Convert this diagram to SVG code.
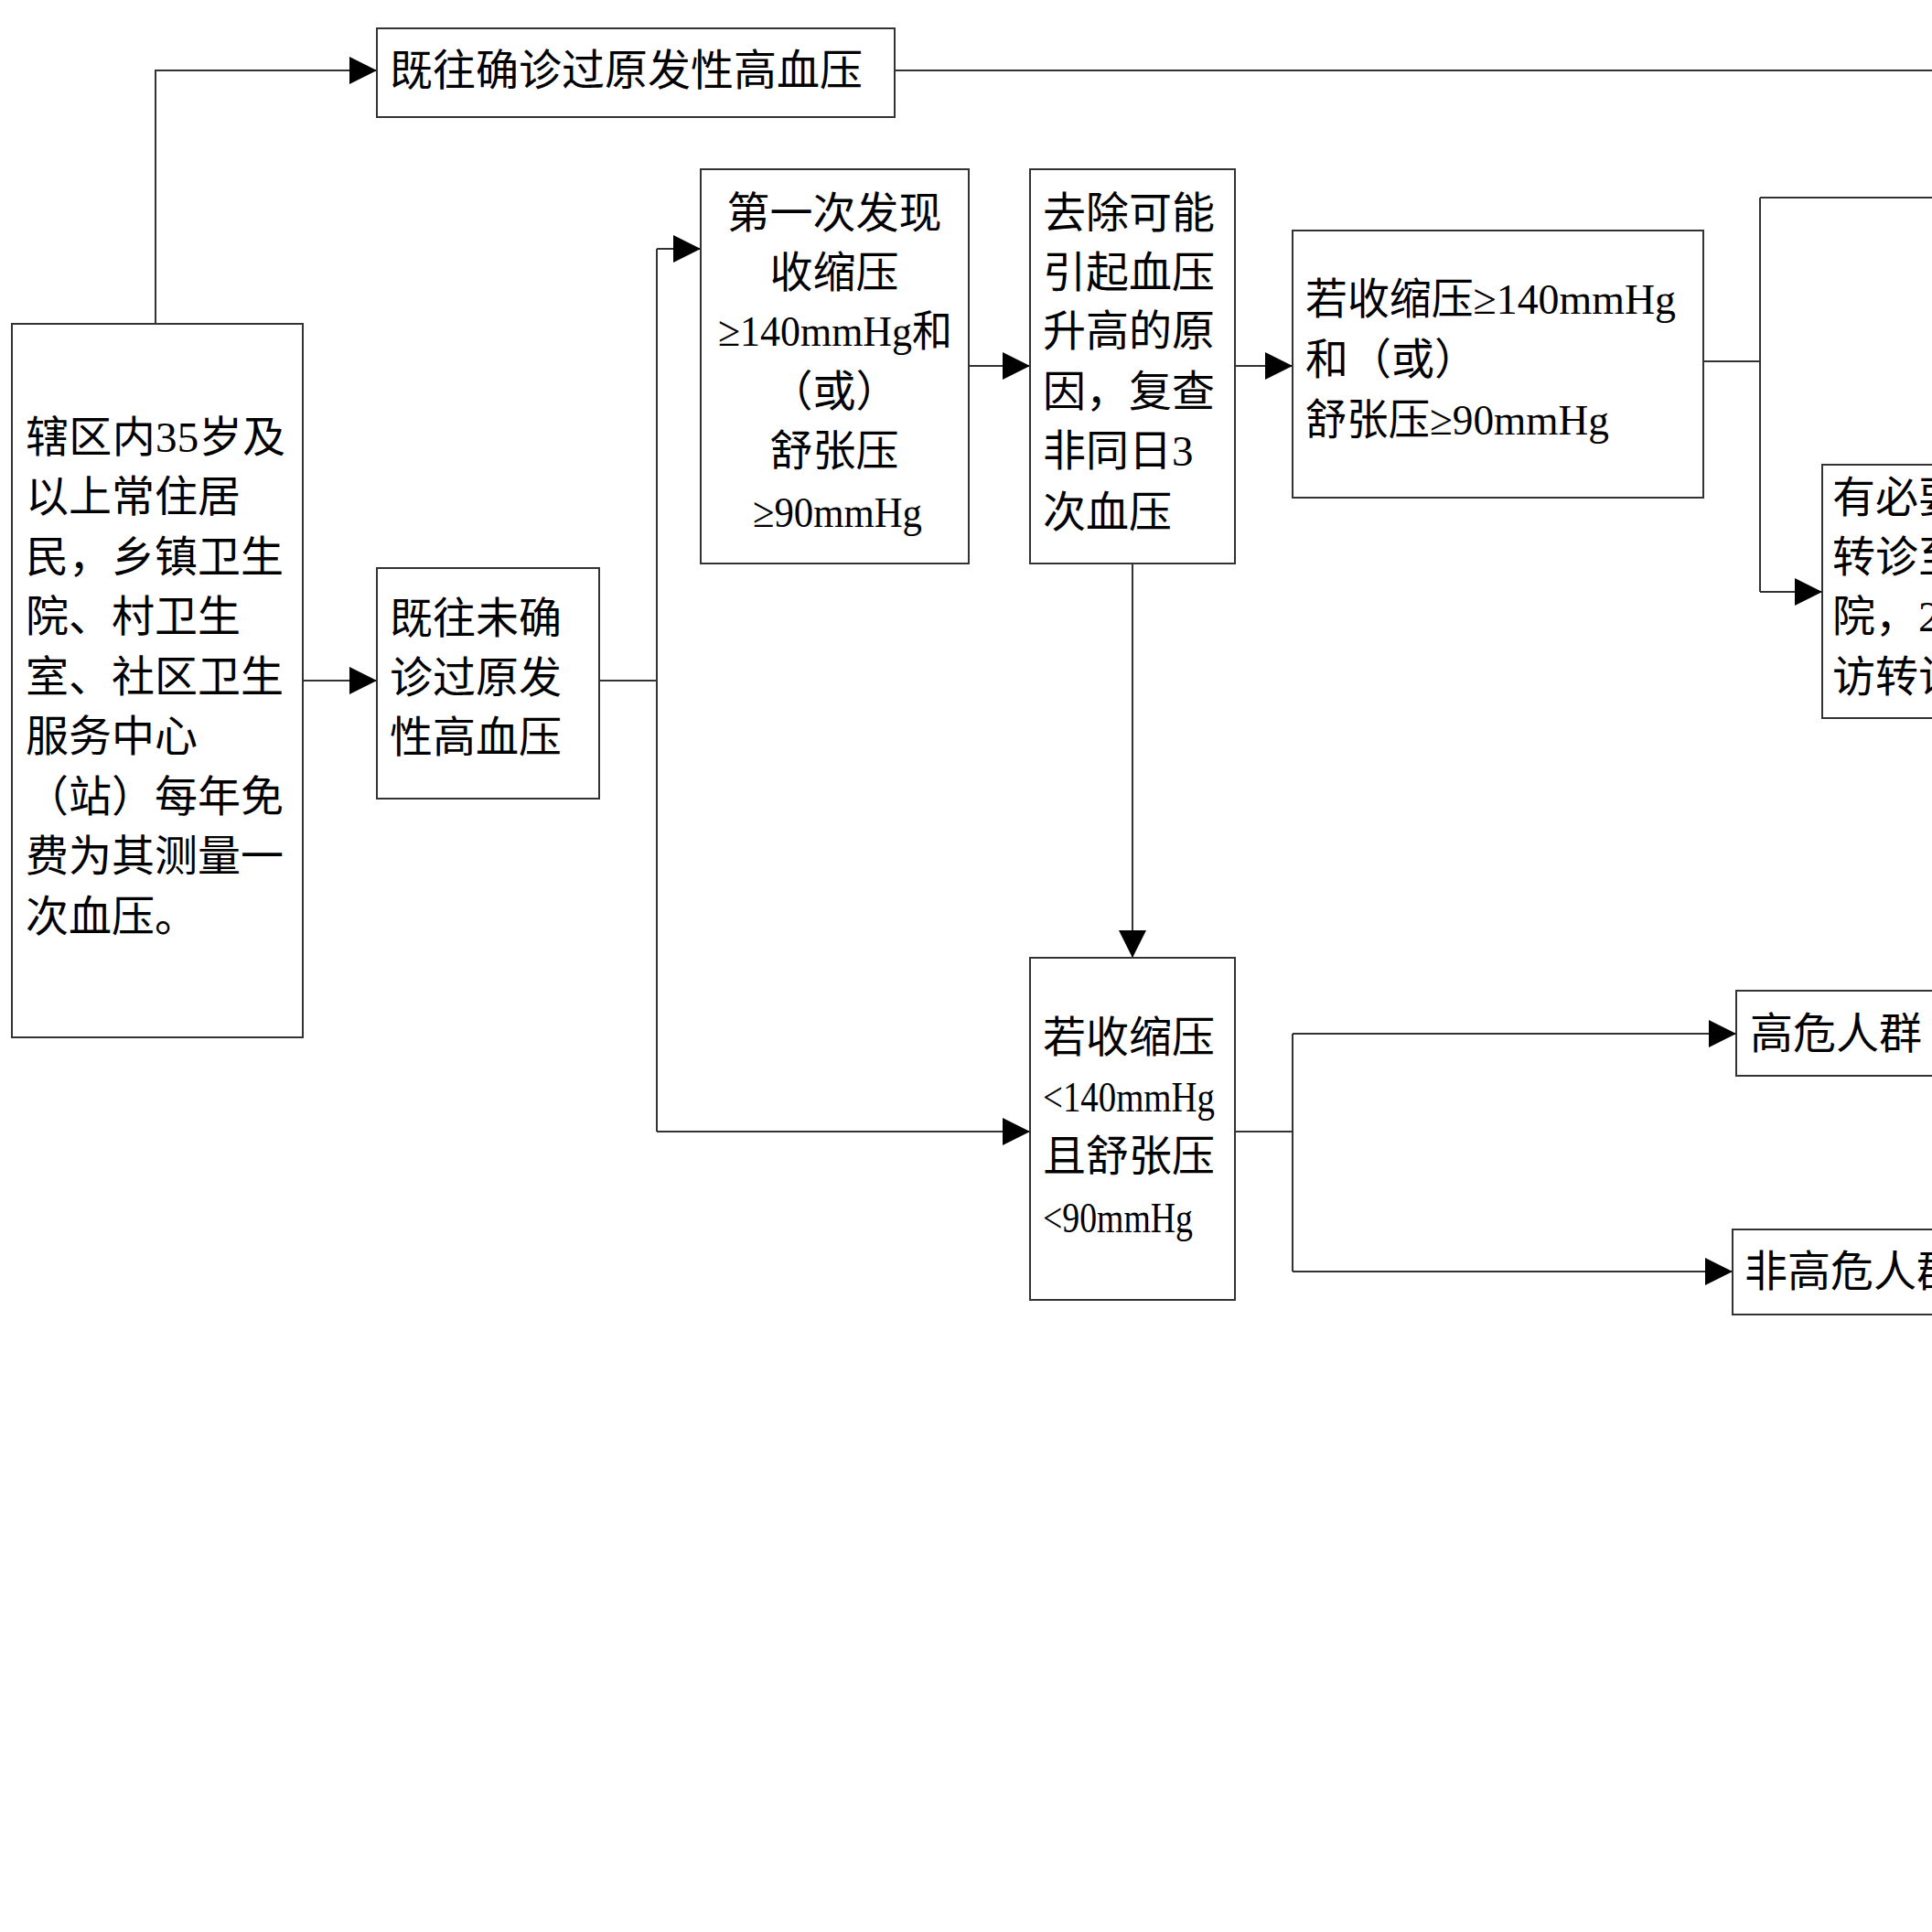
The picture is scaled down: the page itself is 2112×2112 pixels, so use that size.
<svg xmlns="http://www.w3.org/2000/svg" width="2112" height="2112" viewBox="0 0 2112 2112">
<defs>
<style>
.box{fill:#fff;stroke:#333;stroke-width:2}
.ln{fill:none;stroke:#333;stroke-width:2}
.t{font-family:"Liberation Serif","Noto Sans CJK SC",serif;font-size:47px;fill:#000}
.c{text-anchor:middle}
</style>
<marker id="ah" markerUnits="userSpaceOnUse" markerWidth="30" markerHeight="30" refX="30" refY="15" orient="auto" viewBox="0 0 30 30">
<path d="M0,0 L30,15 L0,30 z" fill="#000"/>
</marker>
</defs>
<rect width="2112" height="2112" fill="#fff"/>
<g id="connectors">
<path class="ln" d="M170,354 V77 H412" marker-end="url(#ah)"/>
<path class="ln" d="M978,77 H2112"/>
<path class="ln" d="M331,744 H412" marker-end="url(#ah)"/>
<path class="ln" d="M655,744 H718"/>
<path class="ln" d="M718,272 V1237"/>
<path class="ln" d="M718,272 H766" marker-end="url(#ah)"/>
<path class="ln" d="M718,1237 H1126" marker-end="url(#ah)"/>
<path class="ln" d="M1059,400 H1126" marker-end="url(#ah)"/>
<path class="ln" d="M1350,400 H1413" marker-end="url(#ah)"/>
<path class="ln" d="M1238,616 V1047" marker-end="url(#ah)"/>
<path class="ln" d="M1862,395 H1924"/>
<path class="ln" d="M1924,216 V647"/>
<path class="ln" d="M1924,216 H2112"/>
<path class="ln" d="M1924,647 H1992" marker-end="url(#ah)"/>
<path class="ln" d="M1350,1237 H1413"/>
<path class="ln" d="M1413,1130 V1390"/>
<path class="ln" d="M1413,1130 H1898" marker-end="url(#ah)"/>
<path class="ln" d="M1413,1390 H1894" marker-end="url(#ah)"/>
</g>
<g id="nodeA">
<rect class="box" x="13" y="354" width="318" height="780"/>
<text class="t" x="28" y="494" textLength="284" lengthAdjust="spacing">辖区内35岁及</text>
<text class="t" x="28" y="559">以上常住居</text>
<text class="t" x="28" y="625">民，乡镇卫生</text>
<text class="t" x="28" y="690">院、村卫生</text>
<text class="t" x="28" y="756">室、社区卫生</text>
<text class="t" x="28" y="821">服务中心</text>
<text class="t" x="28" y="887">（站）每年免</text>
<text class="t" x="28" y="952">费为其测量一</text>
<text class="t" x="28" y="1018">次血压。</text>
</g>
<g id="nodeB">
<rect class="box" x="412" y="31" width="566" height="97"/>
<text class="t" x="426" y="93">既往确诊过原发性高血压</text>
</g>
<g id="nodeC">
<rect class="box" x="412" y="621" width="243" height="252"/>
<text class="t" x="426" y="692">既往未确</text>
<text class="t" x="426" y="757">诊过原发</text>
<text class="t" x="426" y="822">性高血压</text>
</g>
<g id="nodeD">
<rect class="box" x="766" y="185" width="293" height="431"/>
<text class="t c" x="912" y="249">第一次发现</text>
<text class="t c" x="912" y="314">收缩压</text>
<text class="t" x="785" y="378" textLength="256" lengthAdjust="spacingAndGlyphs">≥140mmHg和</text>
<text class="t c" x="912" y="444">（或）</text>
<text class="t c" x="912" y="509">舒张压</text>
<text class="t" x="823" y="576" textLength="185" lengthAdjust="spacingAndGlyphs">≥90mmHg</text>
</g>
<g id="nodeE">
<rect class="box" x="1126" y="185" width="224" height="431"/>
<text class="t" x="1140" y="249">去除可能</text>
<text class="t" x="1140" y="314">引起血压</text>
<text class="t" x="1140" y="378">升高的原</text>
<text class="t" x="1140" y="444">因，复查</text>
<text class="t" x="1140" y="509">非同日3</text>
<text class="t" x="1140" y="576">次血压</text>
</g>
<g id="nodeF">
<rect class="box" x="1413" y="252" width="449" height="292"/>
<text class="t" x="1427" y="343" textLength="405" lengthAdjust="spacingAndGlyphs">若收缩压≥140mmHg</text>
<text class="t" x="1427" y="409">和（或）</text>
<text class="t" x="1427" y="475" textLength="332" lengthAdjust="spacingAndGlyphs">舒张压≥90mmHg</text>
</g>
<g id="nodeG">
<rect class="box" x="1992" y="508" width="200" height="277"/>
<text class="t" x="2003" y="560">有必要</text>
<text class="t" x="2003" y="625">转诊至</text>
<text class="t" x="2003" y="690">院，2</text>
<text class="t" x="2003" y="756">访转诊</text>
</g>
<g id="nodeH">
<rect class="box" x="1126" y="1047" width="224" height="374"/>
<text class="t" x="1140" y="1150">若收缩压</text>
<text class="t" x="1140" y="1215" textLength="188" lengthAdjust="spacingAndGlyphs">&lt;140mmHg</text>
<text class="t" x="1140" y="1280">且舒张压</text>
<text class="t" x="1140" y="1347" textLength="164" lengthAdjust="spacingAndGlyphs">&lt;90mmHg</text>
</g>
<g id="nodeI">
<rect class="box" x="1898" y="1083" width="300" height="93"/>
<text class="t" x="1913" y="1146">高危人群</text>
</g>
<g id="nodeJ">
<rect class="box" x="1894" y="1344" width="300" height="93"/>
<text class="t" x="1907" y="1406">非高危人群</text>
</g>
</svg>
